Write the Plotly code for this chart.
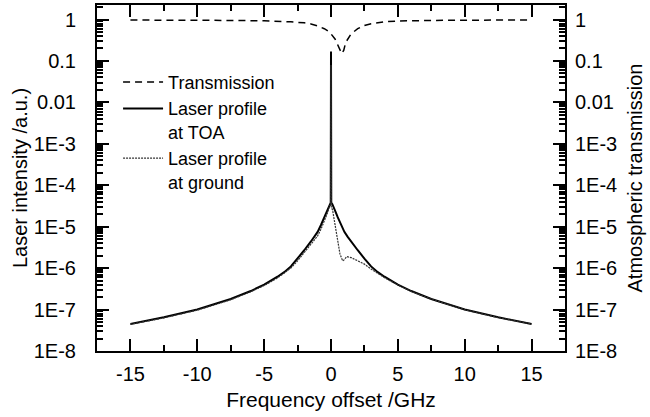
import plotly.graph_objects as go

# Frequency offset (GHz) and values
toa_x = [-15, -12.5, -10, -7.5, -6, -5, -4, -3.5, -3, -2.5, -2, -1.5, -1.25, -1, -0.75, -0.5, -0.35,
         -0.2, -0.1, -0.02, 0, 0.02, 0.1, 0.2, 0.35, 0.5, 0.75, 1, 1.25, 1.5, 2, 2.5, 3, 3.5, 4, 5,
         6, 7.5, 10, 12.5, 15]
toa_y = [4.5e-8, 6.5e-8, 1.0e-7, 1.8e-7, 2.8e-7, 4.0e-7, 6.2e-7, 8.0e-7, 1.1e-6, 1.7e-6, 2.7e-6,
         4.4e-6, 5.7e-6, 7.5e-6, 1.1e-5, 1.7e-5, 2.25e-5, 3.0e-5, 3.5e-5, 3.8e-5, 0.17, 3.8e-5,
         3.5e-5, 3.0e-5, 2.25e-5, 1.7e-5, 1.1e-5, 7.5e-6, 5.7e-6, 4.4e-6, 2.7e-6, 1.7e-6, 1.1e-6,
         8.0e-7, 6.2e-7, 4.0e-7, 2.8e-7, 1.8e-7, 1.0e-7, 6.5e-8, 4.5e-8]

ground_x = [-15, -12.5, -10, -7.5, -6, -5, -4, -3, -2.5, -2, -1.5, -1, -0.75, -0.5, -0.25, -0.1,
            -0.02, 0, 0.02, 0.12, 0.3, 0.5, 0.67, 0.87, 1.0, 1.17, 1.5, 2, 2.5, 3, 3.5, 4, 5, 6,
            7.5, 10, 12.5, 15]
ground_y = [4.4e-8, 6.3e-8, 9.7e-8, 1.72e-7, 2.7e-7, 3.8e-7, 5.8e-7, 1.0e-6, 1.5e-6, 2.35e-6,
            3.7e-6, 6.0e-6, 8.7e-6, 1.35e-5, 2.2e-5, 3.2e-5, 3.3e-5, 0.08, 3.0e-5, 2.5e-5,
            1.2e-5, 4.7e-6, 2.2e-6, 1.5e-6, 1.6e-6, 1.9e-6, 1.8e-6, 1.5e-6, 1.25e-6, 9.5e-7,
            7.5e-7, 5.9e-7, 3.9e-7, 2.75e-7, 1.78e-7, 9.9e-8, 6.4e-8, 4.5e-8]

trans_x = [-15, -12.5, -10, -7.5, -5, -4, -3, -2, -1.5, -1, -0.5, -0.2, 0, 0.3, 0.5, 0.7, 0.8,
           0.95, 1.1, 1.5, 2, 2.5, 3, 4, 5, 7.5, 10, 12.5, 15]
trans_y = [0.97, 0.97, 0.96, 0.95, 0.93, 0.91, 0.88, 0.83, 0.78, 0.70, 0.60, 0.52, 0.45, 0.34,
           0.25, 0.18, 0.15, 0.18, 0.28, 0.45, 0.60, 0.72, 0.79, 0.88, 0.92, 0.95, 0.97, 0.97, 0.97]

x_tickvals = [-15, -10, -5, 0, 5, 10, 15]
x_ticktext = ["-15", "-10", "-5", "0", "5", "10", "15"]
y_tickvals = [1, 0.1, 0.01, 1e-3, 1e-4, 1e-5, 1e-6, 1e-7, 1e-8]
y_ticktext = ["1", "0.1", "0.01", "1E-3", "1E-4", "1E-5", "1E-6", "1E-7", "1E-8"]

FONT = "Liberation Sans, Arial, sans-serif"

fig = go.Figure()
fig.add_trace(go.Scatter(x=trans_x, y=trans_y, mode="lines", name="Transmission",
                         line=dict(color="black", width=1.5, dash="7px,5px"), yaxis="y2"))
fig.add_trace(go.Scatter(x=toa_x, y=toa_y, mode="lines", name="Laser profile<br>at TOA",
                         line=dict(color="black", width=2)))
fig.add_trace(go.Scatter(x=ground_x, y=ground_y, mode="lines", name="Laser profile<br>at ground",
                         line=dict(color="#333333", width=1.2, dash="2px,1px")))

axis_common = dict(showline=True, linecolor="black", linewidth=2, showgrid=False, zeroline=False,
                   ticks="inside", tickcolor="black", tickwidth=1.5, automargin=False,
                   tickfont=dict(family=FONT, size=20, color="black"))

fig.update_layout(
    width=650, height=417,
    margin=dict(l=97, r=85, t=5, b=66),
    paper_bgcolor="white", plot_bgcolor="white",
    font=dict(family=FONT, color="black"),
    showlegend=True,
    legend=dict(x=0.045, y=0.83, xanchor="left", yanchor="top", bgcolor="rgba(0,0,0,0)",
                font=dict(family=FONT, size=18, color="black"), valign="top",
                tracegroupgap=0, itemwidth=40, traceorder="normal"),
    xaxis=dict(range=[-17.5, 17.5], tickvals=x_tickvals, ticktext=x_ticktext, ticklen=12,
               mirror="ticks", ticklabelstandoff=4,
               minor=dict(dtick=2.5, tick0=0, ticks="inside", ticklen=6, tickcolor="black", tickwidth=1.5),
               title=dict(text="Frequency offset /GHz", font=dict(family=FONT, size=21), standoff=8),
               **axis_common),
    yaxis=dict(type="log", range=[-8, 0.35], tickvals=y_tickvals, ticktext=y_ticktext, ticklen=12,
               minor=dict(dtick="D1", ticks="inside", ticklen=6, tickcolor="black", tickwidth=1.5),
               title=dict(text="Laser intensity /a.u.)", font=dict(family=FONT, size=20), standoff=1),
               ticklabelstandoff=15, **axis_common),
    yaxis2=dict(type="log", range=[-8, 0.35], tickvals=y_tickvals, ticktext=y_ticktext, ticklen=12,
                overlaying="y", side="right",
                minor=dict(dtick="D1", ticks="inside", ticklen=6, tickcolor="black", tickwidth=1.5),
                title=dict(text="Atmospheric transmission", font=dict(family=FONT, size=20), standoff=12),
                ticklabelstandoff=4, **axis_common),
)

fig.write_html("out.html", config={"displayModeBar": False},
               post_script="document.body.style.margin='0';")
